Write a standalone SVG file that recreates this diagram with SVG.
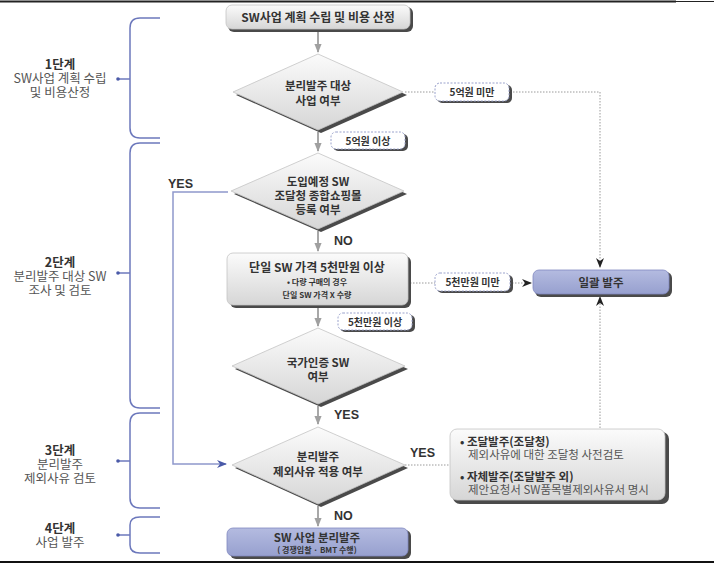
<svg xmlns="http://www.w3.org/2000/svg" width="714" height="564" viewBox="0 0 714 564">
<defs>
<linearGradient id="gGray" x1="0" y1="0" x2="0" y2="1">
<stop offset="0" stop-color="#fbfbfb"/>
<stop offset="1" stop-color="#d6d6d6"/>
</linearGradient>
<linearGradient id="gBlue" x1="0" y1="0" x2="0" y2="1">
<stop offset="0" stop-color="#b4bbe0"/>
<stop offset="1" stop-color="#97a0cf"/>
</linearGradient>
<marker id="aGray" viewBox="0 0 10 10" refX="9" refY="5" markerWidth="9" markerHeight="9" markerUnits="userSpaceOnUse" orient="auto">
<path d="M0,1 L10,5 L0,9 Z" fill="#a0a0a0"/>
</marker>
<marker id="aBlack" viewBox="0 0 10 10" refX="9" refY="5" markerWidth="10" markerHeight="10" markerUnits="userSpaceOnUse" orient="auto">
<path d="M0,1 L10,5 L0,9 L3,5 Z" fill="#222"/>
</marker>
<marker id="aBlue" viewBox="0 0 10 10" refX="9" refY="5" markerWidth="10" markerHeight="10" markerUnits="userSpaceOnUse" orient="auto">
<path d="M0,1 L10,5 L0,9 L3,5 Z" fill="#4a5aa8"/>
</marker>
</defs>
<style>
text{font-family:"Noto Sans CJK KR","Noto Sans",sans-serif;}
.b{font-weight:bold;fill:#333;}
.n{fill:#555;font-weight:normal;}
.t{font-size:11.5px;text-anchor:middle;}
.s{font-size:8px;text-anchor:middle;}
.l{font-size:10px;font-weight:bold;fill:#333;text-anchor:middle;}
.st{font-size:12.5px;text-anchor:middle;}
.box{fill:url(#gGray);stroke:#c4c4c4;stroke-width:0.8;}
.sh{fill:#4a4a4a;}
.lbl{fill:#fff;stroke:#9aa2cc;stroke-width:1;stroke-dasharray:2,1.5;}
.brace{fill:none;stroke:#6c78bc;stroke-width:1.5;}
.flow{stroke:#a8a8a8;stroke-width:2;fill:none;}
.dot{stroke:#9a9a9a;stroke-width:1;stroke-dasharray:1.5,1.5;fill:none;}
.yes{stroke:#8e98cc;stroke-width:1.5;fill:none;}
.yn{font-size:12.5px;font-weight:bold;fill:#333;font-family:"Liberation Sans",Arial,sans-serif;}
</style>
<rect width="714" height="564" fill="#fff"/>
<line x1="0" y1="1.5" x2="676" y2="1.5" stroke="#222" stroke-width="2"/>
<line x1="676" y1="1.5" x2="714" y2="1.5" stroke="#222" stroke-width="1"/>
<line x1="0" y1="562" x2="714" y2="562" stroke="#111" stroke-width="2"/>

<g id="stages">
<g id="stage1">
<path class="brace" d="M160,18 H140 Q130,18 130,28 V128 Q130,138 140,138 H160"/>
<line class="brace" x1="118" y1="79" x2="130" y2="79"/>
<circle cx="118" cy="79" r="1.8" fill="#4a5aa8"/>
<text class="st" x="60" y="69"><tspan class="b">1단계</tspan><tspan class="n" x="60" dy="14">SW사업 계획 수립</tspan><tspan class="n" x="60" dy="14">및 비용산정</tspan></text>
</g>
<g id="stage2">
<path class="brace" d="M160,143 H140 Q130,143 130,153 V398 Q130,408 140,408 H160"/>
<line class="brace" x1="118" y1="273" x2="130" y2="273"/>
<circle cx="118" cy="273" r="1.8" fill="#4a5aa8"/>
<text class="st" x="60" y="267"><tspan class="b">2단계</tspan><tspan class="n" x="60" dy="14">분리발주 대상 SW</tspan><tspan class="n" x="60" dy="14">조사 및 검토</tspan></text>
</g>
<g id="stage3">
<path class="brace" d="M160,413 H140 Q130,413 130,423 V498 Q130,508 140,508 H160"/>
<line class="brace" x1="118" y1="461" x2="130" y2="461"/>
<circle cx="118" cy="461" r="1.8" fill="#4a5aa8"/>
<text class="st" x="60" y="455"><tspan class="b">3단계</tspan><tspan class="n" x="60" dy="14">분리발주</tspan><tspan class="n" x="60" dy="14">제외사유 검토</tspan></text>
</g>
<g id="stage4">
<path class="brace" d="M160,517 H140 Q130,517 130,525 V545 Q130,553 140,553 H160"/>
<line class="brace" x1="118" y1="535" x2="130" y2="535"/>
<circle cx="118" cy="535" r="1.8" fill="#4a5aa8"/>
<text class="st" x="60" y="533"><tspan class="b">4단계</tspan><tspan class="n" x="60" dy="14">사업 발주</tspan></text>
</g>
</g>

<g id="connectors">
<line class="flow" x1="318" y1="31" x2="318" y2="52" marker-end="url(#aGray)"/>
<line class="flow" x1="318" y1="132" x2="318" y2="151" marker-end="url(#aGray)"/>
<line class="flow" x1="318" y1="231" x2="318" y2="251" marker-end="url(#aGray)"/>
<line class="flow" x1="318" y1="308" x2="318" y2="326" marker-end="url(#aGray)"/>
<line class="flow" x1="318" y1="406" x2="318" y2="424" marker-end="url(#aGray)"/>
<line class="flow" x1="318" y1="506" x2="318" y2="526" marker-end="url(#aGray)"/>
<polyline class="dot" points="405,92 600,92 600,267" marker-end="url(#aBlack)"/>
<line class="dot" x1="410" y1="283" x2="531" y2="283" marker-end="url(#aBlack)"/>
<line class="dot" x1="600" y1="428" x2="600" y2="297" marker-end="url(#aBlack)"/>
<line class="dot" x1="405" y1="465" x2="451" y2="465"/>
<polyline class="yes" points="228,192 173,192 173,464 226,464" marker-end="url(#aBlue)"/>
<text class="yn" x="168" y="188">YES</text>
<text class="yn" x="334" y="245">NO</text>
<text class="yn" x="334" y="419">YES</text>
<text class="yn" x="410" y="457">YES</text>
<text class="yn" x="334" y="520">NO</text>
</g>

<g id="lbl-5eok-up">
<rect class="sh" x="333" y="134" width="75" height="17" rx="5"/>
<rect class="lbl" x="331" y="132" width="74" height="17" rx="5"/>
<text class="l" x="368" y="144.5">5억원 이상</text>
</g>
<g id="lbl-5eok-down">
<rect class="sh" x="437" y="85" width="75" height="18" rx="5"/>
<rect class="lbl" x="435" y="83" width="74" height="18" rx="5"/>
<text class="l" x="472" y="96">5억원 미만</text>
</g>
<g id="lbl-5chun-down">
<rect class="sh" x="437" y="275" width="76" height="18" rx="5"/>
<rect class="lbl" x="435" y="273" width="75" height="18" rx="5"/>
<text class="l" x="472.5" y="286">5천만원 미만</text>
</g>
<g id="lbl-5chun-up">
<rect class="sh" x="340" y="315" width="75" height="17" rx="5"/>
<rect class="lbl" x="338" y="313" width="74" height="17" rx="5"/>
<text class="l" x="375" y="325.5">5천만원 이상</text>
</g>

<g id="n-start">
<rect class="sh" x="228" y="7" width="185" height="25" rx="6"/>
<rect class="box" x="226" y="5" width="184" height="24" rx="6"/>
<text class="t b" x="318" y="21.5" style="font-size:12px">SW사업 계획 수립 및 비용 산정</text>
</g>

<g id="n-d1">
<path class="sh" d="M321,57 L407,95 L321,133 L236,95 Z"/>
<path class="box" stroke-linejoin="round" d="M318,54 L403,92 L318,130 L233,92 Z"/>
<text class="t b" x="318" y="90">분리발주 대상<tspan x="318" dy="15">사업 여부</tspan></text>
</g>

<g id="n-d2">
<path class="sh" d="M321,156 L407,194 L321,232 L234,194 Z"/>
<path class="box" stroke-linejoin="round" d="M318,153 L404,191 L318,229 L231,191 Z"/>
<text class="t b" x="318" y="186">도입예정 SW<tspan x="318" dy="14">조달청 종합쇼핑몰</tspan><tspan x="318" dy="14">등록 여부</tspan></text>
</g>

<g id="n-price">
<rect class="sh" x="230" y="256" width="181" height="52" rx="6"/>
<rect class="box" x="227" y="253" width="181" height="52" rx="6"/>
<text class="t b" x="317" y="272" style="font-size:12px">단일 SW 가격 5천만원 이상</text>
<text class="s b" x="317" y="285">• 다량 구매의 경우<tspan x="317" dy="13">단일 SW 가격 X 수량</tspan></text>
</g>

<g id="n-d3">
<path class="sh" d="M321,331 L408,369 L321,407 L235,369 Z"/>
<path class="box" stroke-linejoin="round" d="M318,328 L405,366 L318,404 L232,366 Z"/>
<text class="t b" x="318" y="367">국가인증 SW<tspan x="318" dy="14">여부</tspan></text>
</g>

<g id="n-d4">
<path class="sh" d="M321,430 L408,468 L321,507 L235,468 Z"/>
<path class="box" stroke-linejoin="round" d="M318,427 L405,465 L318,504 L232,465 Z"/>
<text class="t b" x="318" y="461">분리발주<tspan x="318" dy="15">제외사유 적용 여부</tspan></text>
</g>

<g id="n-bulk">
<rect class="sh" x="535" y="272" width="137" height="25" rx="6"/>
<rect x="533" y="270" width="136" height="24" rx="6" fill="url(#gBlue)" stroke="#8088c0" stroke-width="0.8"/>
<text class="t b" x="601" y="286.5">일괄 발주</text>
</g>

<g id="n-except">
<rect class="sh" x="453" y="432" width="216" height="72" rx="7"/>
<rect class="box" x="450" y="429" width="215" height="71" rx="7"/>
<text x="460" y="446" style="font-size:11.5px"><tspan class="b">• 조달발주(조달청)</tspan><tspan class="n" x="468" dy="13">제외사유에 대한 조달청 사전검토</tspan><tspan class="b" x="460" dy="22">• 자체발주(조달발주 외)</tspan><tspan class="n" x="468" dy="13">제안요청서 SW품목별제외사유서 명시</tspan></text>
</g>

<g id="n-final">
<rect class="sh" x="230" y="530" width="181" height="29" rx="6"/>
<rect x="227" y="528" width="181" height="28" rx="6" fill="url(#gBlue)" stroke="#8088c0" stroke-width="0.8"/>
<text class="t b" x="317" y="541.5">SW 사업 분리발주<tspan class="s" x="317" dy="11.5">( 경쟁입찰 · BMT 수행)</tspan></text>
</g>
</svg>
